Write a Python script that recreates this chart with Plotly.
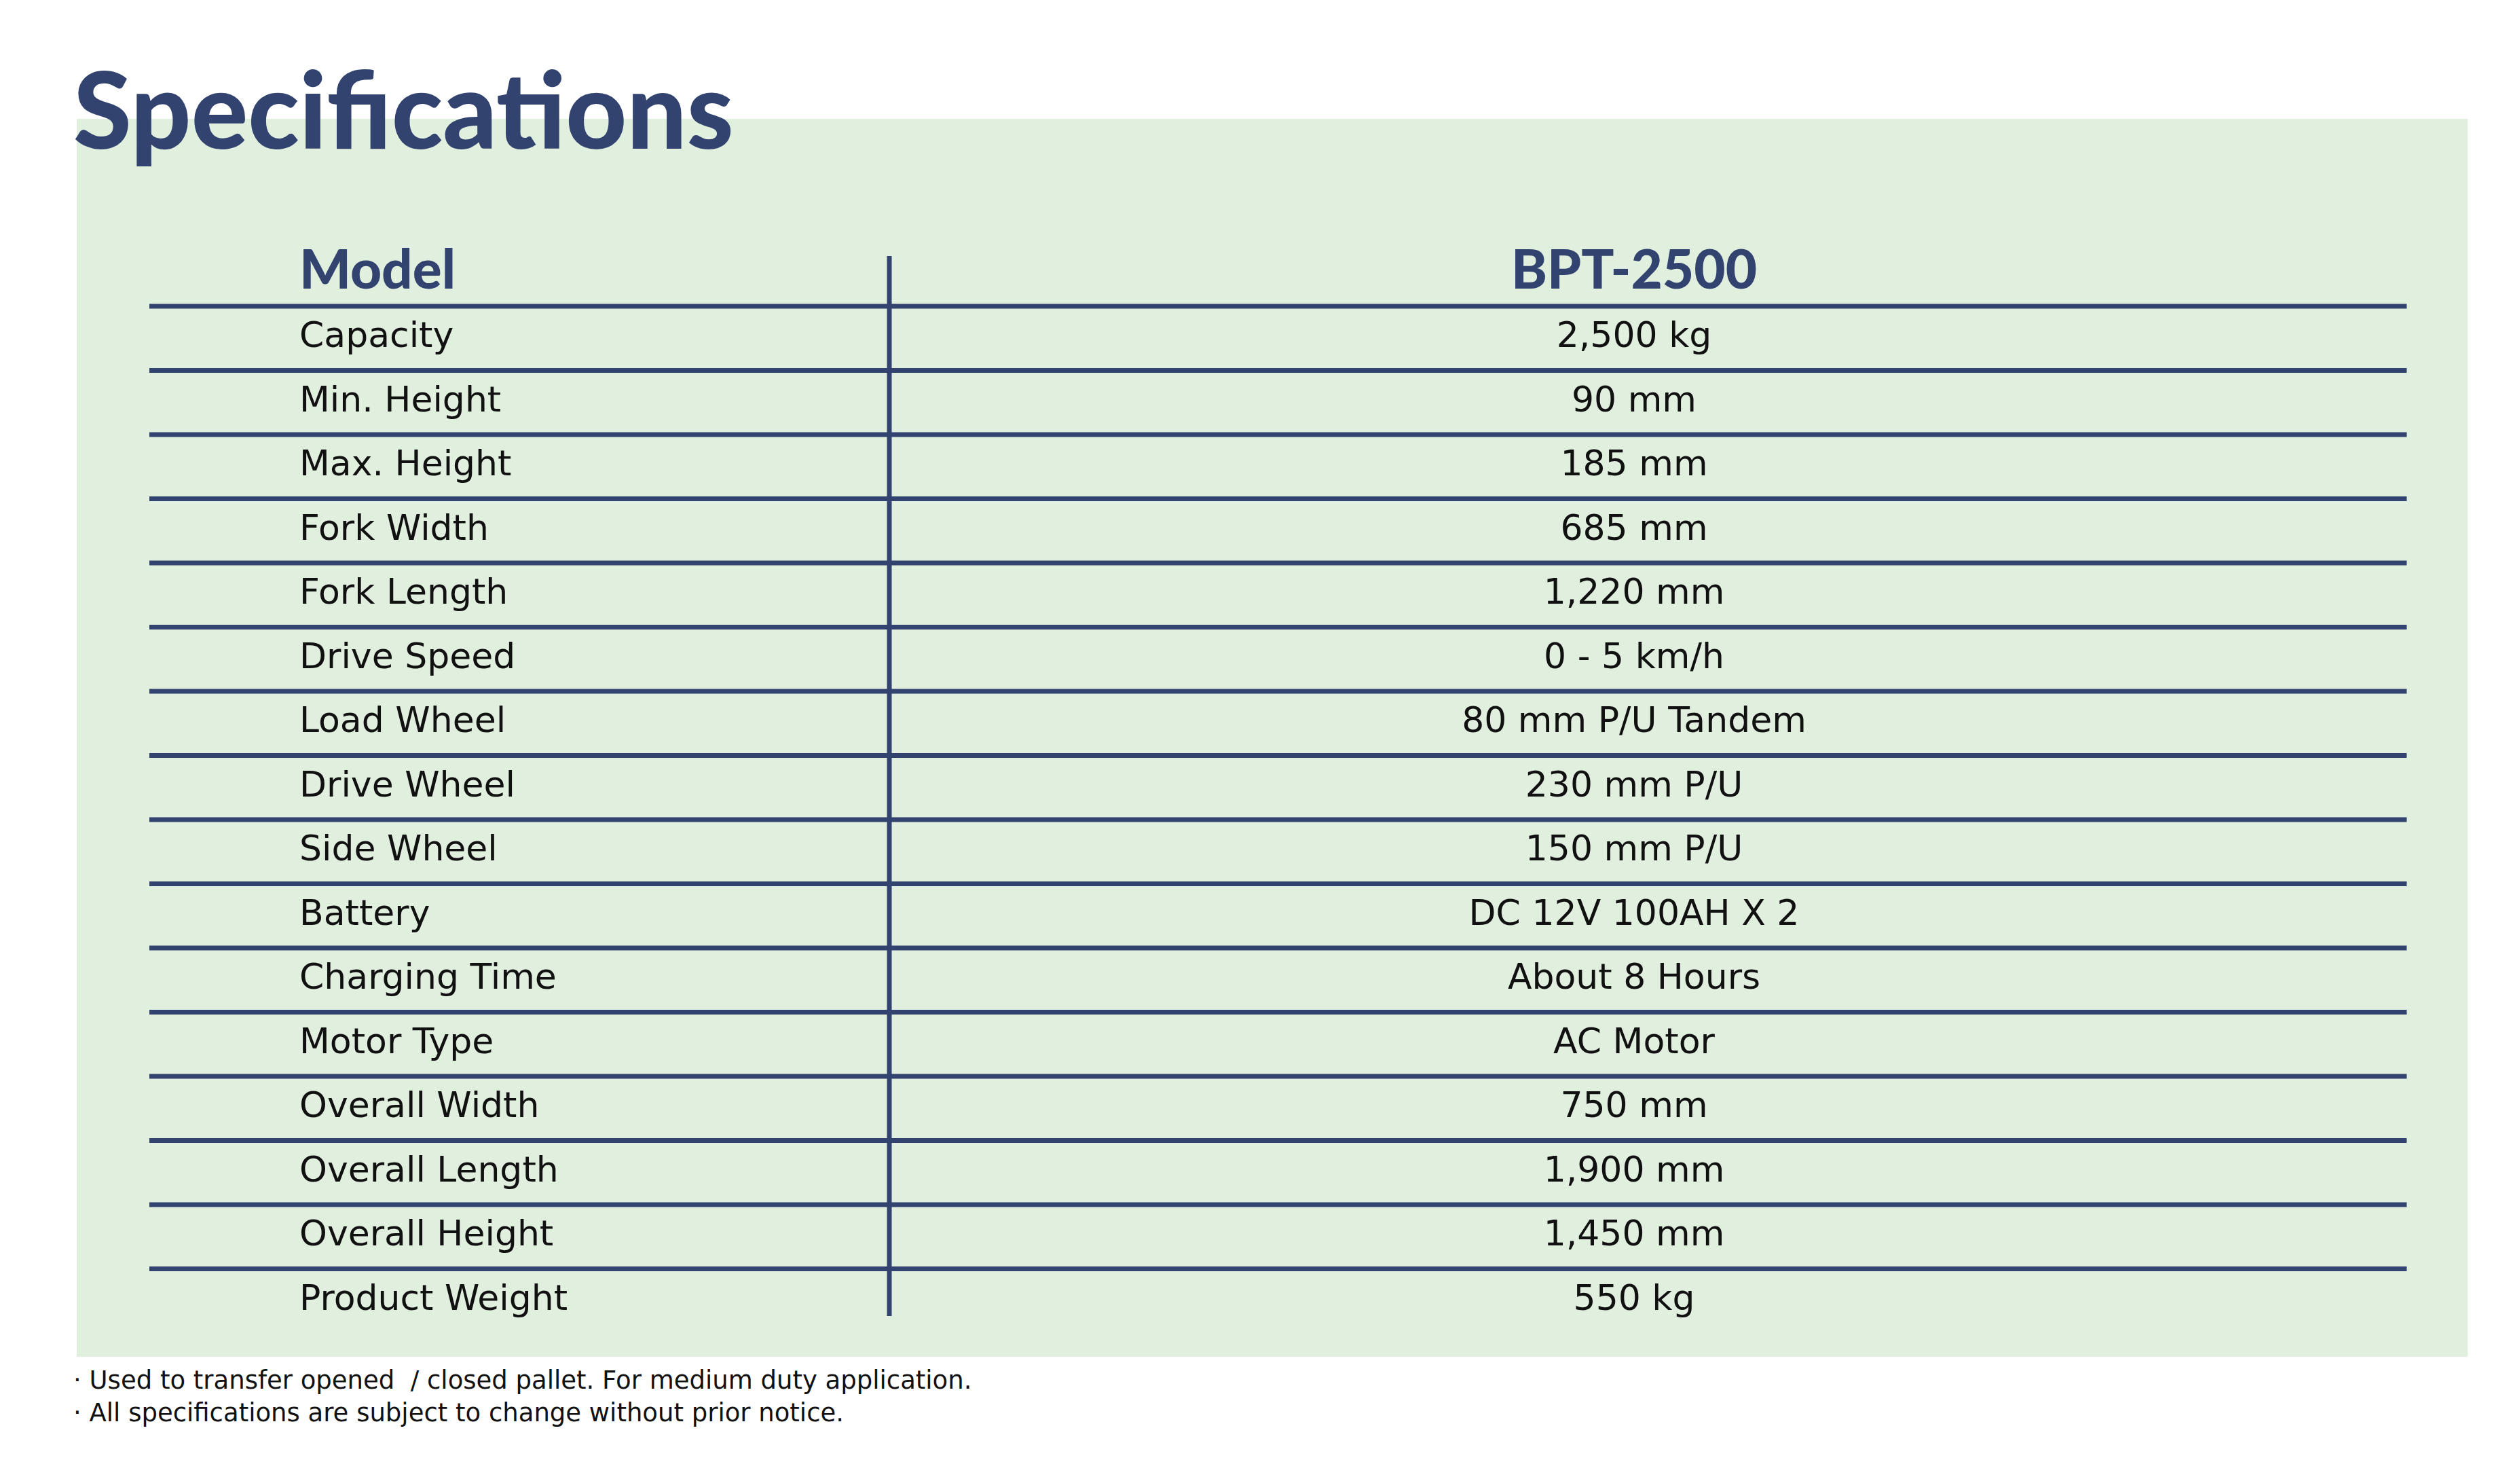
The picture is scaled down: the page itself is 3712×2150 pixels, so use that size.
import plotly.graph_objects as go

# table content
labels = ["Capacity", "Min. Height", "Max. Height", "Fork Width", "Fork Length",
          "Drive Speed", "Load Wheel", "Drive Wheel", "Side Wheel", "Battery",
          "Charging Time", "Motor Type", "Overall Width", "Overall Length",
          "Overall Height", "Product Weight"]
values = ["2,500 kg", "90 mm", "185 mm", "685 mm", "1,220 mm", "0 - 5 km/h",
          "80 mm P/U Tandem", "230 mm P/U", "150 mm P/U", "DC 12V 100AH X 2",
          "About 8 Hours", "AC Motor", "750 mm", "1,900 mm", "1,450 mm", "550 kg"]
header = ["Model", "BPT-2500"]
title = "Specifications"
notes = ["· Used to transfer opened  / closed pallet. For medium duty application.",
         "· All specifications are subject to change without prior notice."]

W, H = 3712, 2150
NAVY = "#32436f"
GREEN = "#e1efdf"
left, mid, right = 212, 1302, 3537
label_x, value_x = 433, 2399
head_bottom, pitch = 443, 94.5
n = len(labels)

row_y = [head_bottom + (i + 0.5) * pitch for i in range(n)]

fig = go.Figure()
shapes = [dict(type="rect", xref="x", yref="y", x0=105, x1=3627, y0=167, y1=1990,
               fillcolor=GREEN, line=dict(width=0), layer="below")]
for i in range(n):
    y = head_bottom + i * pitch
    shapes.append(dict(type="line", xref="x", yref="y", x0=left, x1=right, y0=y, y1=y,
                       line=dict(color=NAVY, width=7)))
shapes.append(dict(type="line", xref="x", yref="y", x0=mid, x1=mid, y0=369, y1=1930,
                   line=dict(color=NAVY, width=7)))

body = dict(family="DejaVu Sans", size=52, color="#111111")
fig.add_trace(go.Scatter(x=[label_x] * n, y=row_y, text=labels, mode="text",
                         textposition="middle right", textfont=body))
fig.add_trace(go.Scatter(x=[value_x] * n, y=row_y, text=values, mode="text",
                         textposition="middle center", textfont=body))
fig.add_trace(go.Scatter(x=[label_x], y=[397], text=[header[0]], mode="text",
                         textposition="middle right",
                         textfont=dict(family="Lato", size=80, color=NAVY, weight=900)))
fig.add_trace(go.Scatter(x=[value_x], y=[397], text=[header[1]], mode="text",
                         textposition="middle center",
                         textfont=dict(family="Lato", size=80, color=NAVY, weight=900)))
fig.add_trace(go.Scatter(x=[100], y=[172], text=[title], mode="text",
                         textposition="middle right",
                         textfont=dict(family="Lato", size=156, color=NAVY, weight=900)))
fig.add_trace(go.Scatter(x=[100, 100], y=[2028, 2076], text=notes, mode="text",
                         textposition="middle right",
                         textfont=dict(family="DejaVu Sans", size=37, color="#111111")))

fig.update_layout(
    width=W, height=H, margin=dict(l=0, r=0, t=0, b=0),
    paper_bgcolor="white", plot_bgcolor="white", showlegend=False, shapes=shapes,
    xaxis=dict(range=[0, W], visible=False, fixedrange=True),
    yaxis=dict(range=[H, 0], visible=False, fixedrange=True),
)
fig.write_html("out.html")
